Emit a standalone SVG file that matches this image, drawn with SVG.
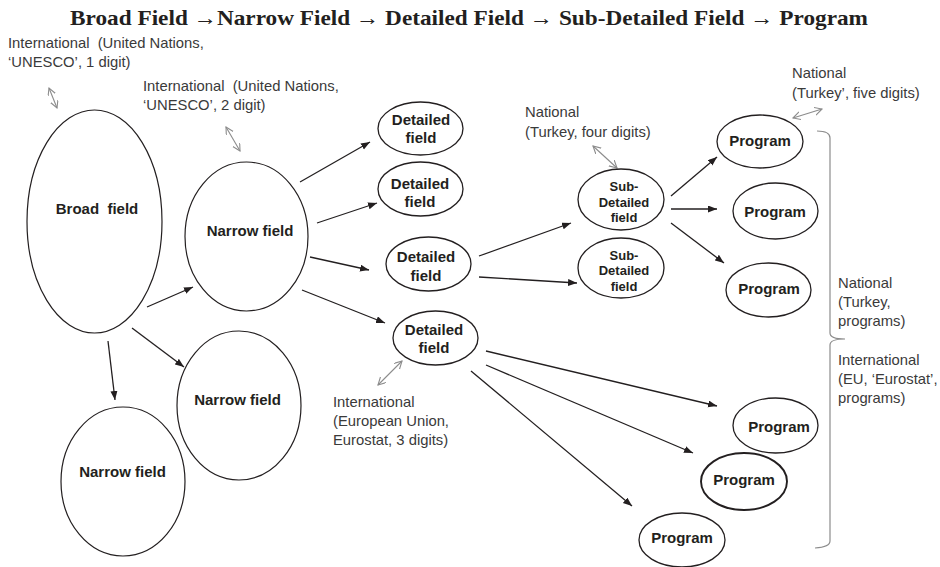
<svg xmlns="http://www.w3.org/2000/svg" width="940" height="567" viewBox="0 0 940 567">
<defs>
<marker id="ah" markerUnits="userSpaceOnUse" markerWidth="10" markerHeight="8" refX="9" refY="3.5" orient="auto">
<path d="M0,0 L9,3.5 L0,7 z" fill="#231f20"/>
</marker>
<marker id="gh" markerUnits="userSpaceOnUse" markerWidth="10" markerHeight="10" refX="7.5" refY="4" orient="auto-start-reverse">
<path d="M0,0 L7.5,4 L0,8" fill="none" stroke="#8c8c8c" stroke-width="1.1"/>
</marker>
<style>
.node ellipse{fill:#fff;stroke:#231f20;stroke-width:1.3}
.big ellipse{stroke-width:1.2}
.nt{font-family:"Liberation Sans",Arial,sans-serif;font-weight:bold;font-size:15px;fill:#231f20;text-anchor:middle;white-space:pre}
.st{font-size:13px}
.lab{font-family:"Liberation Sans",Arial,sans-serif;font-size:14.8px;fill:#3a3a3a;white-space:pre}
.con line{stroke:#231f20;stroke-width:1.3;marker-end:url(#ah)}
.gray line{stroke:#8c8c8c;stroke-width:1.1;marker-start:url(#gh);marker-end:url(#gh)}
.title{font-family:"Liberation Serif","Times New Roman",serif;font-weight:bold;font-size:21px;fill:#231f20}
</style>
</defs>
<rect width="940" height="567" fill="#fff"/>
<text class="title" x="70" y="25" textLength="798" lengthAdjust="spacingAndGlyphs">Broad Field →Narrow Field → Detailed Field → Sub-Detailed Field → Program</text>

<g id="labels">
<text class="lab" x="8" y="48" xml:space="preserve">International  (United Nations,</text>
<text class="lab" x="8" y="67">‘UNESCO’, 1 digit)</text>
<text class="lab" x="143" y="91" xml:space="preserve">International  (United Nations,</text>
<text class="lab" x="143" y="110">‘UNESCO’, 2 digit)</text>
<text class="lab" x="525" y="117">National</text>
<text class="lab" x="525" y="137">(Turkey, four digits)</text>
<text class="lab" x="792" y="78">National</text>
<text class="lab" x="792" y="98">(Turkey’, five digits)</text>
<text class="lab" x="333" y="407">International</text>
<text class="lab" x="333" y="426">(European Union,</text>
<text class="lab" x="333" y="445">Eurostat, 3 digits)</text>
<text class="lab" x="838" y="288">National</text>
<text class="lab" x="838" y="307">(Turkey,</text>
<text class="lab" x="838" y="326">programs)</text>
<text class="lab" x="838" y="365">International</text>
<text class="lab" x="838" y="384">(EU, ‘Eurostat’,</text>
<text class="lab" x="838" y="403">programs)</text>
</g>

<g id="bracket">
<path d="M817,131 Q830,131 830,138 L830,333 Q830,339 845,339 Q830,339 830,345 L830,541 Q830,547 815,548" fill="none" stroke="#8c8c8c" stroke-width="1.2"/>
</g>

<g id="connectors">
<g class="con">
<line x1="147" y1="307" x2="193" y2="287"/>
<line x1="132" y1="328" x2="184" y2="367"/>
<line x1="108" y1="341" x2="115" y2="400"/>
<line x1="300" y1="182" x2="370" y2="142"/>
<line x1="317" y1="223" x2="377" y2="203"/>
<line x1="310" y1="257" x2="369" y2="270"/>
<line x1="302" y1="290" x2="385" y2="323"/>
<line x1="479" y1="256" x2="571" y2="223"/>
<line x1="479" y1="277" x2="577" y2="283"/>
<line x1="671" y1="196" x2="717" y2="157"/>
<line x1="671" y1="209" x2="717" y2="209"/>
<line x1="671" y1="223" x2="724" y2="263"/>
<line x1="486" y1="351" x2="717" y2="406"/>
<line x1="486" y1="365" x2="693" y2="453"/>
<line x1="471" y1="371" x2="632" y2="506"/>
</g>
<g class="gray">
<line x1="49" y1="88" x2="57" y2="108"/>
<line x1="226" y1="127" x2="240" y2="151"/>
<line x1="593" y1="146" x2="617" y2="168"/>
<line x1="793" y1="118" x2="822" y2="109"/>
<line x1="378" y1="385" x2="402" y2="361"/>
</g>
</g>

<g id="broad" class="node big"><ellipse cx="94.5" cy="221.5" rx="67.5" ry="111.5"/><text class="nt" x="97" y="214" xml:space="preserve">Broad  field</text></g>
<g id="narrow1" class="node big"><ellipse cx="246.5" cy="236.5" rx="61.5" ry="74.5"/><text class="nt" x="250" y="236">Narrow field</text></g>
<g id="narrow2" class="node big"><ellipse cx="239" cy="405.5" rx="62" ry="74.5"/><text class="nt" x="237.5" y="405">Narrow field</text></g>
<g id="narrow3" class="node big"><ellipse cx="123" cy="481.5" rx="62" ry="74.5"/><text class="nt" x="122.5" y="477">Narrow field</text></g>

<g id="detailed1" class="node"><ellipse cx="420.5" cy="128.5" rx="42.5" ry="26.5"/><text class="nt" x="421" y="125">Detailed</text><text class="nt" x="421" y="143">field</text></g>
<g id="detailed2" class="node"><ellipse cx="420.5" cy="189" rx="42.5" ry="27"/><text class="nt" x="420" y="189">Detailed</text><text class="nt" x="420" y="207">field</text></g>
<g id="detailed3" class="node"><ellipse cx="428.5" cy="264" rx="42.5" ry="27"/><text class="nt" x="426" y="262">Detailed</text><text class="nt" x="426" y="281">field</text></g>
<g id="detailed4" class="node"><ellipse cx="435.5" cy="338" rx="42.5" ry="27"/><text class="nt" x="434" y="335">Detailed</text><text class="nt" x="434" y="353">field</text></g>

<g id="subdetailed1" class="node"><ellipse cx="621" cy="199.5" rx="43" ry="30.5"/><text class="nt st" x="624" y="191">Sub-</text><text class="nt st" x="624" y="207">Detailed</text><text class="nt st" x="624" y="222">field</text></g>
<g id="subdetailed2" class="node"><ellipse cx="621" cy="268" rx="43" ry="30"/><text class="nt st" x="624" y="260">Sub-</text><text class="nt st" x="624" y="275">Detailed</text><text class="nt st" x="624" y="291">field</text></g>

<g id="program1" class="node"><ellipse cx="760" cy="141.5" rx="43" ry="26.5"/><text class="nt" x="760" y="146">Program</text></g>
<g id="program2" class="node"><ellipse cx="775.5" cy="211" rx="42.5" ry="28"/><text class="nt" x="775" y="217">Program</text></g>
<g id="program3" class="node"><ellipse cx="768.5" cy="290" rx="42.5" ry="27"/><text class="nt" x="769" y="294">Program</text></g>
<g id="program4" class="node"><ellipse cx="775.5" cy="425.5" rx="42.5" ry="27.5"/><text class="nt" x="779" y="432">Program</text></g>
<g id="program5" class="node"><ellipse cx="744" cy="481.5" rx="43" ry="28.5" style="stroke-width:1.9"/><text class="nt" x="744" y="485">Program</text></g>
<g id="program6" class="node"><ellipse cx="682" cy="540" rx="43" ry="27"/><text class="nt" x="682" y="543">Program</text></g>
</svg>
